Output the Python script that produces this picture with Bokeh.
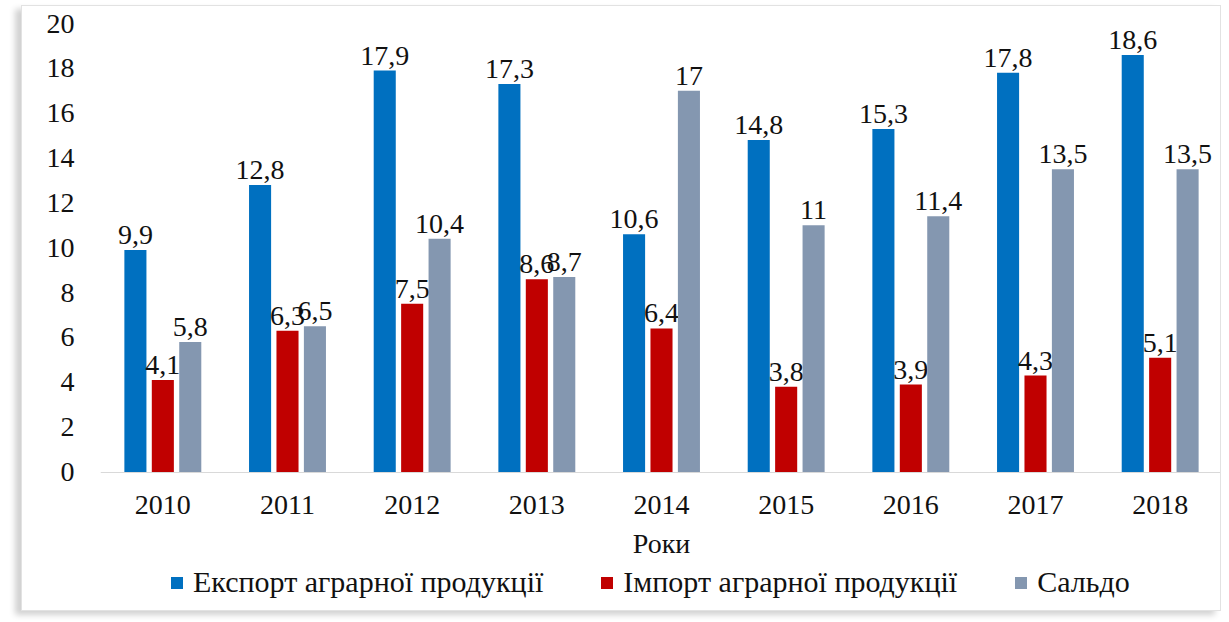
from bokeh.plotting import figure
from bokeh.models import ColumnDataSource, FactorRange, Legend, LegendItem, Range1d, FixedTicker
from bokeh.transform import dodge
from bokeh.core.properties import value
from bokeh.embed import file_html
from bokeh.resources import INLINE

years = ["2010", "2011", "2012", "2013", "2014", "2015", "2016", "2017", "2018"]
export = [9.9, 12.8, 17.9, 17.3, 10.6, 14.8, 15.3, 17.8, 18.6]
imports = [4.1, 6.3, 7.5, 8.6, 6.4, 3.8, 3.9, 4.3, 5.1]
saldo = [5.8, 6.5, 10.4, 8.7, 17, 11, 11.4, 13.5, 13.5]
series_names = ["Експорт аграрної продукції", "Імпорт аграрної продукції", "Сальдо"]
colors = ["#0070C0", "#C00000", "#8497B0"]
y_ticks = [0, 2, 4, 6, 8, 10, 12, 14, 16, 18, 20]

def fmt(v):
    return f"{v:g}".replace(".", ",")

src = ColumnDataSource(dict(
    years=years, export=export, imports=imports, saldo=saldo,
    export_l=[fmt(v) for v in export],
    imports_l=[fmt(v) for v in imports],
    saldo_l=[fmt(v) for v in saldo],
))

FONT = "Liberation Serif"
FS = "28px"

# layout: value 0 sits 139 px above the frame bottom, 447 px for 20 units
Y_MAX = 20
PX_PER_UNIT = 447 / Y_MAX
Y_MIN = -139 / PX_PER_UNIT

p = figure(x_range=FactorRange(*years, range_padding=0), y_range=Range1d(Y_MIN, Y_MAX),
           width=1200, height=606, output_backend="svg", toolbar_location=None,
           min_border_left=78, min_border_right=0, min_border_top=17, min_border_bottom=1)
p.styles = {"margin-left": "21px", "margin-top": "5px",
            "box-shadow": "-6px 4px 6px rgba(0,0,0,0.18)", "border": "1px solid #e2e2e2"}

offsets = [-0.22, 0.0, 0.22]
cols = ["export", "imports", "saldo"]
renderers = []
for off, col, c in zip(offsets, cols, colors):
    r = p.vbar(x=dodge("years", off, range=p.x_range), top=col, bottom=0, width=0.177, source=src,
               fill_color=c, line_color=None)
    renderers.append(r)
    p.text(x=dodge("years", off, range=p.x_range), y=col, text=col + "_l", source=src,
           text_align="center", text_baseline="alphabetic", y_offset=-15,
           text_font=value(FONT), text_font_size=FS, text_color="#111111")

p.xgrid.grid_line_color = None
p.ygrid.grid_line_color = None
p.outline_line_color = None

p.yaxis.ticker = FixedTicker(ticks=y_ticks)
p.yaxis.axis_line_color = None
p.yaxis.major_tick_line_color = None
p.yaxis.minor_tick_line_color = None
p.yaxis.major_tick_out = 0
p.yaxis.major_label_text_font = FONT
p.yaxis.major_label_text_font_size = FS
p.yaxis.major_label_text_color = "#111111"
p.yaxis.major_label_standoff = 26

p.xaxis.fixed_location = 0
p.xaxis.axis_line_color = "#d9d9d9"
p.xaxis.axis_line_width = 1
p.xaxis.major_tick_line_color = None
p.xaxis.minor_tick_line_color = None
p.xaxis.major_tick_out = 0
p.xaxis.major_label_text_font = FONT
p.xaxis.major_label_text_font_size = FS
p.xaxis.major_label_text_color = "#111111"
p.xaxis.major_label_standoff = 24
p.xaxis.axis_label = "Роки"
p.xaxis.axis_label_text_font = FONT
p.xaxis.axis_label_text_font_size = FS
p.xaxis.axis_label_text_font_style = "normal"
p.xaxis.axis_label_text_color = "#111111"
p.xaxis.axis_label_standoff = 10

legend = Legend(items=[LegendItem(label=n, renderers=[r]) for n, r in zip(series_names, renderers)],
                orientation="horizontal", location=(69, 12),
                label_text_font=FONT, label_text_font_size="30px", label_text_color="#111111",
                glyph_width=15, glyph_height=15, label_standoff=9, spacing=56,
                border_line_color=None, background_fill_alpha=0, padding=0, margin=0)
p.add_layout(legend, "center")

open("out.html", "w").write(file_html(p, INLINE))
